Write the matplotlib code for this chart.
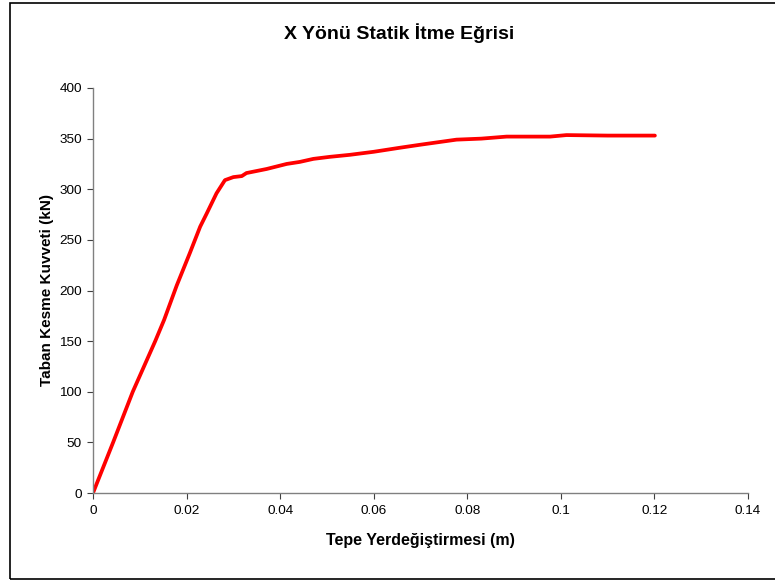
import matplotlib
matplotlib.use("Agg")
import matplotlib.pyplot as plt
from matplotlib.patches import Rectangle
from matplotlib.ticker import FuncFormatter

plt.rcParams['font.family'] = ['Liberation Sans', 'DejaVu Sans']

# okunan noktalar (yerdegistirme m, kesme kuvveti kN)
disp = [0.0, 0.0043, 0.0085, 0.0133, 0.0152, 0.0179, 0.0207, 0.0229, 0.0243,
        0.0264, 0.0282, 0.0300, 0.0318, 0.0328, 0.0371, 0.0414, 0.0442, 0.0471,
        0.0506, 0.0549, 0.0600, 0.0656, 0.0700, 0.0777, 0.0830, 0.0884, 0.0977,
        0.1012, 0.1100, 0.1201]
shear = [0, 50, 100, 150, 171, 205, 237, 263, 276,
         296, 309, 312, 313, 316, 320, 325, 327, 330,
         332, 334, 337, 341, 344, 349, 350, 352, 352,
         353.5, 353, 353]

title = "X Yönü Statik İtme Eğrisi"
xlabel = "Tepe Yerdeğiştirmesi (m)"
ylabel = "Taban Kesme Kuvveti (kN)"

fig = plt.figure(figsize=(7.75, 5.83), dpi=100)
ax = fig.add_axes([93/775, 1-493/583, (748-93)/775, (493-88)/583])

ax.plot(disp, shear, color="red", linewidth=2.7, solid_capstyle="round")

ax.set_xlim(0, 0.14)
ax.set_ylim(0, 400)
ax.set_xticks([0, 0.02, 0.04, 0.06, 0.08, 0.1, 0.12, 0.14])
ax.set_yticks(range(0, 401, 50))
ax.xaxis.set_major_formatter(FuncFormatter(lambda v, p: "0" if v == 0 else f"{v:g}"))

for s in ["top", "right"]:
    ax.spines[s].set_visible(False)
for s in ["left", "bottom"]:
    ax.spines[s].set_color("#808080")
    ax.spines[s].set_linewidth(1.0)
ax.tick_params(axis="both", direction="out", length=4, color="#404040",
               labelsize=9.7, pad=5)
ax.tick_params(axis="y", pad=4)

ax.set_xlabel(xlabel, fontsize=11.5, fontweight="bold", labelpad=11)
ax.set_ylabel(ylabel, fontsize=11, fontweight="bold", labelpad=4)
fig.text(399/775, 1-33/583, title, fontsize=14, fontweight="bold",
         ha="center", va="center")

fig.patches.append(Rectangle((10/775, 1-579/583), 1.0, (579-3)/583,
                             transform=fig.transFigure, fill=False,
                             edgecolor="black", linewidth=1.2))

fig.savefig("out.png", dpi=100)
